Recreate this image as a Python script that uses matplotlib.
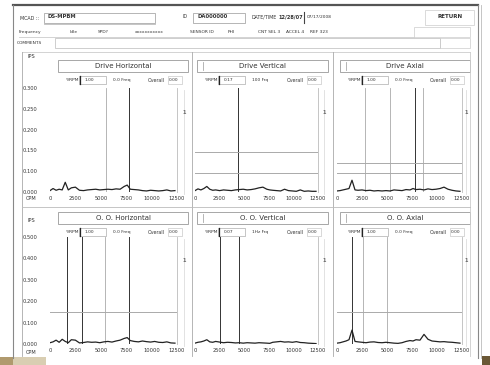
import numpy as np
import matplotlib
matplotlib.use("Agg")
import matplotlib.pyplot as plt
from matplotlib.patches import Rectangle
from matplotlib.lines import Line2D

# ---------------- data ----------------
CPM = [0, 300, 600, 900, 1200, 1500, 1800, 2100, 2500, 2900, 3300, 3700, 4100, 4500,
       4900, 5300, 5700, 6100, 6500, 6900, 7300, 7600, 7900, 8300, 8700, 9100, 9500,
       9900, 10300, 10700, 11100, 11500, 11900, 12300]

drive_h = [0.004, 0.010, 0.005, 0.008, 0.006, 0.028, 0.006, 0.012, 0.014, 0.005, 0.004, 0.006,
           0.007, 0.008, 0.006, 0.007, 0.008, 0.007, 0.009, 0.008, 0.016, 0.020, 0.008, 0.007,
           0.006, 0.004, 0.003, 0.005, 0.004, 0.003, 0.004, 0.006, 0.003, 0.004]
drive_v = [0.004, 0.009, 0.006, 0.010, 0.016, 0.008, 0.005, 0.006, 0.004, 0.006, 0.005, 0.004,
           0.006, 0.007, 0.008, 0.006, 0.007, 0.009, 0.012, 0.014, 0.008, 0.006, 0.005, 0.004,
           0.003, 0.008, 0.004, 0.003, 0.002, 0.006, 0.002, 0.003, 0.002, 0.002]
drive_a = [0.003, 0.004, 0.006, 0.008, 0.010, 0.034, 0.006, 0.005, 0.006, 0.004, 0.005, 0.003,
           0.004, 0.003, 0.004, 0.003, 0.006, 0.005, 0.004, 0.007, 0.006, 0.010, 0.007, 0.008,
           0.006, 0.009, 0.007, 0.008, 0.010, 0.014, 0.008, 0.005, 0.003, 0.002]
od_h = [0.006, 0.010, 0.018, 0.008, 0.022, 0.012, 0.006, 0.020, 0.018, 0.005, 0.007, 0.010,
        0.008, 0.009, 0.006, 0.010, 0.012, 0.009, 0.014, 0.018, 0.026, 0.030, 0.016, 0.012,
        0.010, 0.014, 0.011, 0.009, 0.012, 0.008, 0.007, 0.010, 0.005, 0.004]
od_v = [0.004, 0.008, 0.010, 0.014, 0.020, 0.010, 0.008, 0.012, 0.009, 0.006, 0.008, 0.007,
        0.005, 0.006, 0.004, 0.006, 0.005, 0.004, 0.006, 0.005, 0.004, 0.003, 0.008, 0.010,
        0.012, 0.009, 0.010, 0.008, 0.011, 0.007, 0.006, 0.004, 0.003, 0.002]
od_a = [0.004, 0.006, 0.010, 0.014, 0.020, 0.065, 0.012, 0.010, 0.008, 0.006, 0.009, 0.010,
        0.007, 0.006, 0.008, 0.006, 0.004, 0.003, 0.006, 0.012, 0.016, 0.014, 0.020, 0.018,
        0.045, 0.022, 0.014, 0.012, 0.010, 0.011, 0.009, 0.008, 0.006, 0.004]

titles = ["Drive Horizontal", "Drive Vertical", "Drive Axial",
          "O. O. Horizontal", "O. O. Vertical", "O. O. Axial"]
series = [drive_h, drive_v, drive_a, od_h, od_v, od_a]
rpm_vals = ["1.00", "0.17", "1.00", "1.00", "0.07", "1.00"]
freq_texts = ["0.0 Freq", "100 Frq", "0.0 Freq", "0.0 Freq", "1Hz Frq", "0.0 Freq"]
overall_vals = ["0.00", "0.00", "0.00", "0.00", "0.00", "0.00"]

x_ticks = [0, 2500, 5000, 7500, 10000, 12500]
x_labels = ["0", "2500", "5000", "7500", "10000", "12500"]
top_ylabels = ["0.000", "0.100", "0.150", "0.200", "0.250", "0.300"]
bot_ylabels = ["0.000", "0.100", "0.200", "0.300", "0.400", "0.500"]

# cursor lines (CPM, dark?) and alarm levels per panel
cursors = [[(5500, False), (7800, True)],
           [(4400, True)],
           [(2800, False), (5300, False), (7800, True), (8600, False)],
           [(1700, True), (3150, True), (5400, False), (7800, True)],
           [(2550, True), (4450, True)],
           [(1500, True), (2600, False), (5000, False)]]
alarms = [[], [0.115, 0.055], [0.084, 0.055], [0.15], [], [0.15]]

# ---------------- figure ----------------
W, H = 490, 365
fig = plt.figure(figsize=(W / 100, H / 100), dpi=100)
fig.patch.set_facecolor("white")
TXT = "#333333"


def fx(x):
    return x / W


def fy(y):
    return 1 - y / H


def box(x0, y0, x1, y1, ec="#999999", lw=0.6, fc="none", z=1):
    fig.add_artist(Rectangle((fx(x0), fy(y1)), (x1 - x0) / W, (y1 - y0) / H,
                             transform=fig.transFigure, ec=ec, fc=fc, lw=lw, zorder=z))


def line(x0, y0, x1, y1, c="#999999", lw=0.6, z=2):
    fig.add_artist(Line2D([fx(x0), fx(x1)], [fy(y0), fy(y1)], transform=fig.transFigure,
                          color=c, lw=lw, zorder=z))


def txt(x, y, s, size=3.8, ha="left", weight="normal", c=TXT):
    fig.text(fx(x), fy(y), s, fontsize=size, ha=ha, va="center", color=c,
             weight=weight, zorder=5)


# outer frame & decorations
line(13, 5, 478, 5, c="#555555", lw=1.6)
line(13, 5, 13, 358, c="#888888", lw=0.8)
line(478, 5, 478, 358, c="#888888", lw=0.8)
line(481, 5, 481, 358, c="#bbbbbb", lw=0.6)
box(0, 357, 13, 365, ec="none", fc="#b09a6e")
box(13, 357, 46, 365, ec="none", fc="#d9ceb2")
box(482, 356, 490, 365, ec="none", fc="#6b5836")

# header
txt(20, 18, "MCAD ::", 3.4)
box(44, 13, 155, 23, ec="#999999", lw=0.5)
txt(48, 17, "DS-MPBM", 3.8, weight="bold")
line(44, 24, 155, 24, c="#bbbbbb")
txt(182, 17, "ID", 3.4)
box(193, 13, 245, 23, ec="#999999", lw=0.5)
txt(197, 17, "DA000000", 3.8, weight="bold")
txt(252, 17, "DATE/TIME", 3.4)
txt(278, 17, "12/28/07", 3.6, weight="bold")
line(304, 12, 304, 23, c="#444444", lw=0.8)
txt(307, 17, "07/17/2008", 3.2)
box(425, 10, 474, 25, ec="#cccccc", lw=0.5)
txt(450, 17, "RETURN", 4.0, ha="center", weight="bold")

txt(19, 32, "Frequency", 3.2)
txt(70, 32, "Idle", 3.2)
txt(98, 32, "SPD?", 3.2)
txt(135, 32, "xxxxxxxxxxx", 3.2)
txt(190, 32, "SENSOR ID", 3.2)
txt(228, 32, "PHI", 3.2)
txt(258, 32, "CNT SEL 3", 3.2)
txt(286, 32, "ACCEL 4", 3.2)
txt(310, 32, "REF 323", 3.2)
box(414, 27, 470, 37, ec="#cccccc", lw=0.5)
line(19, 37, 414, 37, c="#cccccc")

txt(17, 43, "COMMENTS", 3.2)
box(55, 38, 440, 48, ec="#bbbbbb", lw=0.5)
box(440, 38, 470, 48, ec="#cccccc", lw=0.5)

# panel frames
line(22, 52, 470, 52, c="#cccccc")
line(22, 52, 22, 356, c="#aaaaaa")
line(192, 52, 192, 356, c="#aaaaaa")
line(333, 52, 333, 356, c="#aaaaaa")
line(470, 52, 470, 356, c="#cccccc")
line(22, 207, 470, 207, c="#bbbbbb")

cols = [(50, 177, 58, 188), (195, 318, 197, 328), (337, 462, 340, 470)]
rows = [(88, 192, 60, 72, 80, 199), (237, 344, 212, 224, 232, 352)]

for i in range(6):
    r, c = divmod(i, 3)
    ax0, ax1, tx0, tx1 = cols[c]
    ay0, ay1, ty0, ty1, sy, ly = rows[r]
    # title box
    box(tx0, ty0, tx1, ty1, ec="#999999", lw=0.6)
    txt((tx0 + tx1) / 2, (ty0 + ty1) / 2, titles[i], 5.0, ha="center")
    if c == 1 or c == 2:
        line(tx0 + 6, ty0 + 2, tx0 + 6, ty1 - 2, c="#aaaaaa")
    # sub-header
    txt(tx0 + 8, sy, "%RPM", 3.2)
    box(tx0 + 21, sy - 4, tx0 + 48, sy + 4, ec="#999999", lw=0.4)
    line(tx0 + 22, sy - 4, tx0 + 22, sy + 4, c="#222222", lw=0.9)
    txt(tx0 + 27, sy, rpm_vals[i], 3.2)
    txt(tx0 + 55, sy, freq_texts[i], 3.2)
    txt(tx0 + 90, sy, "Overall", 3.4)
    box(tx0 + 110, sy - 4, tx0 + 124, sy + 4, ec="#bbbbbb", lw=0.4)
    txt(tx0 + 111, sy, overall_vals[i], 3.2)
    # scroll track
    sx = tx1 - 4
    line(sx, ay0 + 2, sx, ay1 + 2, c="#dddddd")
    txt(sx, ay0 + 24, "1", 3.6, ha="center", weight="bold", c="#666666")

    # axes
    ax = fig.add_axes([fx(ax0), fy(ay1), (ax1 - ax0) / W, (ay1 - ay0) / H])
    ax.set_facecolor("none")
    ymax = 0.30 if r == 0 else 0.50
    ax.set_xlim(0, 12500)
    ax.set_ylim(0, ymax)
    for s in ["top", "left", "bottom"]:
        ax.spines[s].set_visible(False)
    ax.spines["right"].set_color("#bbbbbb")
    ax.spines["right"].set_linewidth(0.6)
    ax.set_xticks(x_ticks)
    ax.set_xticklabels(x_labels, fontsize=3.7, color=TXT)
    ax.tick_params(axis="x", length=0, pad=3)
    labels = top_ylabels if r == 0 else bot_ylabels
    ax.set_yticks(np.linspace(0, ymax, 6))
    if c == 0:
        ax.set_yticklabels(labels, fontsize=3.7, color=TXT)
        ax.tick_params(axis="y", length=0, pad=9)
    else:
        ax.set_yticklabels([])
        ax.tick_params(axis="y", length=0)
    for xv, dark in cursors[i]:
        ax.axvline(xv, color="#333333" if dark else "#aaaaaa", lw=0.7 if dark else 0.6)
    for yv in alarms[i]:
        ax.axhline(yv, color="#aaaaaa", lw=0.7)
    ax.plot(CPM, series[i], color="#222222", lw=0.9)
    if c == 0:
        txt(27, ay0 - (31 if r == 0 else 17), "IPS", 3.6)
        txt(26, ly, "CPM", 3.6)

fig.savefig("out.png", dpi=100, facecolor="white")
